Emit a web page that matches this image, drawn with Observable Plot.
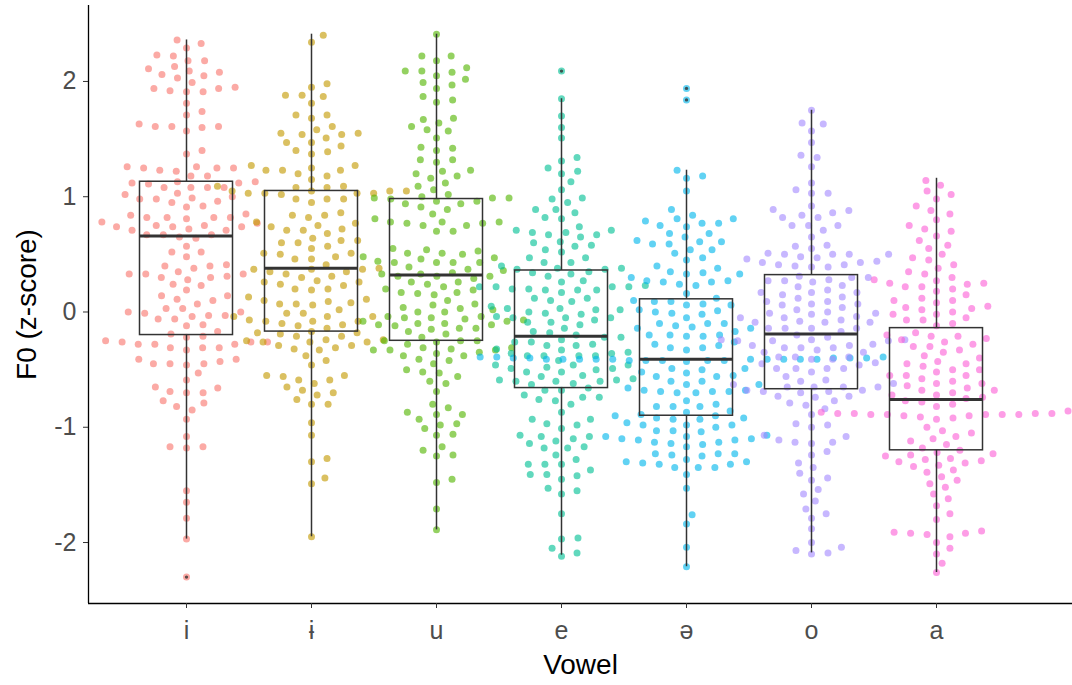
<!DOCTYPE html>
<html>
<head>
<meta charset="utf-8">
<script src="https://cdn.jsdelivr.net/npm/d3@7"></script>
<script src="https://cdn.jsdelivr.net/npm/@observablehq/plot@0.6"></script>
<style>
  html, body { margin: 0; padding: 0; background: #ffffff; }
  #chart { width: 1072px; height: 685px; }
</style>
</head>
<body>
<div id="chart"></div>
<script>
// ---------- data ----------
const vowels = ["i", "ɨ", "u", "e", "ə", "o", "a"];
const palette = ["#F8766D", "#C49A00", "#53B400", "#00C094", "#00B6EB", "#A58AFF", "#FB61D7"];
const yTicks = [-2, -1, 0, 1, 2];

const valuesI = [2.36, 2.33, 2.29, 2.22, 2.23, 2.18, 2.18, 2.13, 2.09, 2.06, 2.03, 1.99, 2.05, 2.08, 2.11, 1.95, 1.94, 1.92, 1.91, 1.91, 1.94, 1.81, 1.71, 1.74, 1.63, 1.61, 1.61, 1.57, 1.60, 1.61, 1.37, 1.40,
  1.26, 1.25, 1.25, 1.26, 1.22, 1.23, 1.25, 1.18, 1.18, 1.13, 1.13, 1.12, 1.08, 1.08, 1.08, 1.08, 1.11, 1.12, 1.03, 1.00, 1.02, 0.98, 0.98, 0.95, 0.96, 0.99, 0.91, 0.92,
  0.75, 0.78, 0.81, 0.82, 0.82, 0.85, 0.84, 0.82, 0.82, 0.67, 0.71, 0.72, 0.74, 0.77, 0.74, 0.74, 0.71, 0.67, 0.64, 0.67, 0.65, 0.75,
  0.57, 0.52, 0.52, 0.48, 0.40, 0.41, 0.40, 0.38, 0.33, 0.33, 0.30, 0.35, 0.33, 0.30, 0.31, 0.28, 0.24, 0.23, 0.19, 0.14, 0.11, 0.10, 0.14, 0.07, 0.03, 0.00, -0.06, -0.01, -0.03, -0.04, -0.06, -0.03, 0.00, 0.03,
  -0.12, -0.11, -0.17, -0.19, -0.22, -0.21, -0.26, -0.28, -0.31, -0.31, -0.28, -0.26, -0.26, -0.25, -0.28, -0.31, -0.33, -0.46, -0.45, -0.43, -0.41, -0.41, -0.45, -0.45, -0.53, -0.59, -0.70, -0.66, -0.65, -0.69, -0.70, -0.82, -0.77, -0.79, -0.85, -0.93, -1.08, -1.17, -1.17, -1.18, -1.55, -1.65, -1.79, -1.97, -2.30];

const valuesBarI = [2.40, 2.34, 1.98, 1.88, 1.88, 1.95, 1.87, 1.81, 1.71, 1.68, 1.71, 1.58, 1.61, 1.55, 1.54, 1.51, 1.54, 1.55, 1.47, 1.47, 1.44, 1.40, 1.37, 1.39,
  1.27, 1.27, 1.23, 1.25, 1.20, 1.23, 1.23, 1.18, 1.15, 1.09, 1.08, 1.08, 1.05, 1.03, 1.03, 1.05, 1.02, 1.03, 1.03, 1.05, 1.09, 1.05, 0.98, 0.98, 0.98, 0.95,
  0.86, 0.84, 0.82, 0.84, 0.78, 0.74, 0.75, 0.77, 0.72, 0.71, 0.68, 0.71, 0.64, 0.62, 0.62, 0.60, 0.60, 0.57, 0.55, 0.51, 0.48, 0.50, 0.51, 0.46, 0.46, 0.41, 0.37, 0.37, 0.35, 0.35, 0.38, 0.33, 0.37, 0.31, 0.27, 0.30, 0.26, 0.24, 0.23, 0.26, 0.20, 0.19, 0.20, 0.13, 0.11, 0.09, 0.10, 0.07, 0.06, 0.07, 0.08, 0.02, -0.01, -0.01, -0.04, -0.04, -0.04,
  -0.08, -0.08, -0.07, -0.12, -0.10, -0.11, -0.17, -0.14, -0.21, -0.18, -0.19, -0.21, -0.24, -0.32, -0.29, -0.26, -0.25, -0.26, -0.29, -0.24, -0.26, -0.18, -0.08, -0.31, -0.33, -0.38, -0.42, -0.46, -0.62, -0.56, -0.55, -0.55, -0.59, -0.59, -0.72, -0.68, -0.65, -0.70, -0.80, -0.76, -0.80, -0.96, -1.07, -1.27, -1.30, -1.44, -1.49, -1.95];

const valuesU = [2.41, 2.22, 2.22, 2.18, 2.12, 2.09, 2.05, 2.08, 2.09, 2.02, 1.99, 1.97, 1.94, 1.87, 1.82, 1.84, 1.68, 1.61, 1.58, 1.64, 1.67, 1.57, 1.51, 1.43, 1.40, 1.42, 1.32, 1.30, 1.32, 1.22, 1.20, 1.23, 1.18, 1.16, 1.12, 1.09, 1.06, 1.00, 0.99, 0.99, 0.98, 0.94, 0.91, 0.96, 0.89, 0.94, 0.96, 0.99, 1.02,
  0.85, 0.81, 0.78, 0.75, 0.75, 0.78, 0.77, 0.77, 0.78, 0.70, 0.70, 0.55, 0.51, 0.54, 0.51, 0.53, 0.47, 0.50, 0.46, 0.43, 0.43, 0.48, 0.43, 0.43, 0.44, 0.39, 0.36, 0.33, 0.31, 0.29, 0.33, 0.31, 0.31, 0.26, 0.34, 0.37, 0.22, 0.20, 0.24, 0.17, 0.19, 0.26, 0.17, 0.16, 0.15, 0.10, 0.07, 0.06, 0.04, 0.00, 0.02, 0.03, 0.00, -0.04, -0.04, -0.05, -0.06,
  -0.07, -0.08, -0.05, -0.08, -0.10, -0.11, -0.10, -0.14, -0.15, -0.17, -0.11, -0.19, -0.22, -0.25, -0.25, -0.25, -0.26, -0.28, -0.31, -0.38, -0.38, -0.32, -0.35, -0.33, -0.33, -0.36, -0.31, -0.41, -0.42, -0.45, -0.52, -0.50, -0.53, -0.56, -0.62, -0.60, -0.69, -0.80, -0.83, -0.89, -0.87, -0.89, -0.93, -1.01, -0.97, -0.98, -1.07, -1.06, -1.17, -1.20, -1.25, -1.24, -1.45, -1.48, -1.71, -1.89, -0.12, -0.14, -0.33];

const valuesE = [2.09, 1.85, 1.70, 1.60, 1.51, 1.34, 1.31, 1.25, 1.22, 1.20, 1.13, 1.06, 0.99, 0.98, 0.95, 0.89, 0.86, 0.89, 0.82, 0.81, 0.74, 0.69, 0.69, 0.67, 0.65, 0.71, 0.67, 0.71, 0.60, 0.58, 0.57, 0.61, 0.54, 0.52, 0.47, 0.47, 0.43, 0.38, 0.37, 0.35, 0.33, 0.37, 0.34, 0.38, 0.40, 0.26, 0.27, 0.31, 0.22, 0.19, 0.17, 0.20, 0.19, 0.19, 0.20, 0.22, 0.22, 0.12, 0.09, 0.10, 0.12, 0.03, 0.00, -0.02, -0.01, 0.03, 0.05, -0.04, -0.05, -0.07, -0.05, -0.09, -0.09, -0.11, -0.05, 0.02, -0.18, -0.17, -0.20, -0.14, -0.22, 0.43, 0.02, -0.63, 0.23, 0.22,
  -0.26, -0.22, -0.26, -0.24, -0.28, -0.29, -0.32, -0.29, -0.38, -0.38, -0.33, -0.36, -0.35, -0.36, -0.38, -0.38, -0.42, -0.46, -0.46, -0.46, -0.48, -0.49, -0.50, -0.52, -0.49, -0.52, -0.56, -0.55, -0.58, -0.59, -0.60, -0.59, -0.60, -0.60, -0.62, -0.68, -0.66, -0.68, -0.72, -0.76, -0.74, -0.74, -0.77, -0.80, -0.87, -0.93, -0.93, -0.97, -0.98, -1.01, -1.08, -1.07, -1.10, -1.08, -1.12, -1.14, -1.18, -1.17, -1.18, -1.24, -1.28, -1.32, -1.32, -1.32, -1.37, -1.42, -1.41, -1.41, -1.45, -1.53, -1.55, -1.58, -1.75, -1.96, -1.97, -2.05, -2.09, -2.12];

const valuesSchwa = [1.94, 1.84, 1.23, 1.16, 1.18, 1.05, 0.89, 0.79, 0.77, 0.84, 0.74, 0.81, 0.75, 0.77, 0.81, 0.68, 0.68, 0.65, 0.62, 0.61, 0.59, 0.61, 0.59, 0.54, 0.51, 0.54, 0.45, 0.47, 0.40, 0.35, 0.33, 0.34, 0.38, 0.33, 0.30, 0.27, 0.26, 0.23, 0.24, 0.26, 0.27, 0.16, 0.09, 0.07, 0.06, 0.10, 0.12, 0.06, 0.09, 0.00, -0.01, -0.02, -0.05, 0.02, 0.01, -0.12, -0.17, -0.10, -0.10, -0.13, -0.14, -0.14, -0.10,
  -0.20, -0.20, -0.21, -0.21, -0.26, -0.28, -0.31, -0.31, -0.29, -0.33, -0.20,
  -0.41, -0.40, -0.42, -0.41, -0.41, -0.41, -0.41, -0.41, -0.41, -0.42, -0.42, -0.40, -0.41, -0.40, -0.39, -0.42, -0.40, -0.42, -0.39, -0.43, -0.40, -0.41, -0.39, -0.41,
  -0.55, -0.52, -0.49, -0.49, -0.50, -0.53, -0.56, -0.56, -0.63, -0.63, -0.60, -0.60, -0.66, -0.68, -0.69, -0.70, -0.70, -0.69, -0.69, -0.68, -0.77, -0.82, -0.82, -0.80, -0.82, -0.86, -0.87, -0.89, -0.93, -0.92, -0.92, -0.93, -0.90, -0.96, -0.90, -0.98, -1.03, -1.03, -0.98, -0.98, -1.00, -1.04, -1.10, -1.08, -1.08, -1.11, -1.07, -1.10, -1.11, -1.13, -1.15, -1.13, -1.14, -1.17, -1.24, -1.23, -1.23, -1.25, -1.23, -1.28, -1.31, -1.30, -1.32, -1.30, -1.32, -1.35, -1.35, -1.35, -1.41, -1.53, -1.76, -1.84, -2.04, -2.21];

const valuesO = [1.75, 1.64, 1.63, 1.57, 1.47, 1.36, 1.34, 1.26, 1.12, 1.06, 1.03, 1.03, 0.92, 0.88, 0.86, 0.82, 0.84, 0.82, 0.89, 0.75, 0.71, 0.75, 0.75, 0.65, 0.57, 0.55, 0.58, 0.50, 0.48, 0.47, 0.50, 0.50, 0.50, 0.46, 0.43, 0.41, 0.40, 0.39, 0.39, 0.41, 0.43, 0.44, 0.51, 0.31, 0.30, 0.28, 0.30, 0.27, 0.26, 0.23, 0.27, 0.19, 0.17, 0.17, 0.22, 0.15, 0.17, 0.13, 0.09, 0.07, 0.06, 0.12, 0.07, 0.09, -0.01, 0.00, -0.01, -0.04, -0.05, 0.02, 0.04, -0.07, -0.05, -0.09, -0.09, -0.08, -0.14, -0.14, -0.17, -0.14, -0.14, -0.22, -0.24, -0.25, -0.25, -0.25, -0.24, -0.20, -0.28, -0.09, -0.24, -0.02,
  -0.29, -0.31, -0.41, -0.41, -0.39, -0.39, -0.35, -0.33, -0.35, -0.39, -0.49, -0.49, -0.52, -0.44, -0.49, -0.49, -0.62, -0.59, -0.60, -0.63, -0.56, -0.65, -0.65, -0.68, -0.69, -0.65, -0.65, -0.68, -0.74, -0.73, -0.69, -0.73, -0.77, -0.81, -0.79, -0.84, -0.89, -0.97, -0.98, -1.00, -1.07, -1.08, -1.13, -1.11, -1.13, -1.14, -1.21, -1.24, -1.31, -1.35, -1.40, -1.44, -1.46, -1.54, -1.58, -1.64, -1.71, -1.75, -1.79, -1.88, -2.00, -2.09, -2.07, -2.04, -2.10, -0.31, -0.31, -0.46, -0.70, -0.45, -0.29];

const valuesA = [1.14, 1.10, 1.05, 1.02, 0.98, 0.92, 0.88, 0.85, 0.80, 0.75, 0.72, 0.70, 0.66, 0.62, 0.58, 0.55, 0.50, 0.47, 0.45, 0.41, 0.38, 0.35, 0.33, 0.30, 0.27, 0.25, 0.24, 0.22, 0.20, 0.18, 0.15, 0.12, 0.10, 0.10, 0.08, 0.05, 0.03, 0.00, -0.02, -0.05, -0.07, -0.07, -0.10, -0.12, 0.28, 0.25, 0.22, 0.02, -0.02, 0.04,
  -0.18, -0.20, -0.21, -0.21, -0.23, -0.24, -0.26, -0.28, -0.30, -0.33, -0.35, -0.38, -0.40, -0.43, -0.45, -0.47, -0.50, -0.50, -0.52, -0.55, -0.55, -0.58, -0.60, -0.62, -0.64, -0.66, -0.68, -0.70, -0.72, -0.74, -0.75, -0.77, -0.78, -0.80, -0.82, -0.30, -0.45, -0.55, -0.62, -0.68, -0.72,
  -0.86, -0.88, -0.89, -0.89, -0.90, -0.88, -0.87, -0.89, -0.91, -0.88, -0.89, -0.90, -0.92, -0.93, -0.88, -0.89,
  -1.00, -1.03, -1.05, -1.08, -1.10, -1.12, -1.15, -1.18, -1.20, -1.23, -1.25, -1.28, -1.31, -1.34, -1.37, -1.39, -1.43, -1.46, -1.49, -1.52, -1.58, -1.62, -1.68, -1.75, -1.80, -1.90, -1.92, -1.91, -1.93, -1.92, -1.95, -2.00, -2.05, -2.10, -2.18, -2.26, -1.22, -1.27, -1.30, -1.33, -1.24, -1.29];

// box-plot statistics (one entry per vowel)
const whiskerHigh = [2.36, 2.41, 2.41, 1.85, 1.23, 1.75, 1.16];
const quartile3   = [1.13, 1.05, 0.98, 0.36, 0.11, 0.32, -0.14];
const medians     = [0.66, 0.38, 0.32, -0.21, -0.41, -0.19, -0.76];
const quartile1   = [-0.20, -0.17, -0.25, -0.66, -0.90, -0.67, -1.20];
const whiskerLow  = [-1.97, -1.95, -1.89, -2.11, -2.21, -2.09, -2.26];
const outlierVowel = ["i", "e", "ə", "ə"];
const outlierValue = [-2.30, 2.09, 1.94, 1.84];

// ---------- layout ----------
const W = 1072, H = 685;
const mL = 88, mR = 0, mT = 5, mB = 82;
const xDomain = [0.216, 8.088];
const yDomain = [-2.529, 2.659];
const pxPerX = (W - mL - mR) / (xDomain[1] - xDomain[0]);
const pxPerY = (H - mT - mB) / (yDomain[1] - yDomain[0]);

// beeswarm (swarm, ascending priority) with elliptical spacing in pixels
function swarmOffsets(vals, ax, by) {
  const pts = vals.map((v, i) => ({i, w: v * pxPerY / by}));
  pts.sort((p, q) => p.w - q.w);
  const placed = [];
  const out = new Array(vals.length);
  for (const p of pts) {
    const near = placed.filter(q => Math.abs(q.w - p.w) < 1);
    const cands = [0];
    for (const q of near) {
      const d = Math.sqrt(1 - (q.w - p.w) ** 2);
      cands.push(q.u + d, q.u - d);
    }
    const order = cands.map((c, k) => [c, k]).sort((m, n) => (Math.abs(m[0]) - Math.abs(n[0])) || (m[1] - n[1]));
    let best = 0;
    for (const [c] of order) {
      if (near.every(q => (q.u - c) ** 2 + (q.w - p.w) ** 2 >= 1 - 1e-6)) { best = c; break; }
    }
    p.u = best;
    placed.push(p);
    out[p.i] = best * ax;
  }
  return out;
}

const series = [valuesI, valuesBarI, valuesU, valuesE, valuesSchwa, valuesO, valuesA];
const points = [];
series.forEach((vals, k) => {
  const offs = swarmOffsets(vals, 16.6, 9.8);
  vals.forEach((v, j) => points.push({vowel: vowels[k], pos: k + 1 + offs[j] / pxPerX, value: v}));
});

const boxes = vowels.map((v, k) => ({
  vowel: v, pos: k + 1,
  lo: whiskerLow[k], q1: quartile1[k], med: medians[k], q3: quartile3[k], hi: whiskerHigh[k]
}));
const outliers = outlierVowel.map((v, j) => ({pos: vowels.indexOf(v) + 1, value: outlierValue[j]}));
const halfBox = 0.372;

const chart = Plot.plot({
  width: W, height: H,
  marginLeft: mL, marginRight: mR, marginTop: mT, marginBottom: mB,
  style: {fontFamily: "'Liberation Sans', Arial, sans-serif", background: "#ffffff", overflow: "visible"},
  x: {domain: xDomain, axis: null},
  y: {domain: yDomain, axis: null},
  color: {domain: vowels, range: palette},
  marks: [
    Plot.dot(points, {x: "pos", y: "value", fill: "vowel", r: 3.5, fillOpacity: 0.62, stroke: "none"}),
    Plot.ruleX(boxes, {x: "pos", y1: "q3", y2: "hi", stroke: "#333333", strokeWidth: 1.5}),
    Plot.ruleX(boxes, {x: "pos", y1: "q1", y2: "lo", stroke: "#333333", strokeWidth: 1.5}),
    Plot.rect(boxes, {x1: d => d.pos - halfBox, x2: d => d.pos + halfBox, y1: "q1", y2: "q3", fill: "none", stroke: "#333333", strokeWidth: 1.5}),
    Plot.ruleY(boxes, {x1: d => d.pos - halfBox, x2: d => d.pos + halfBox, y: "med", stroke: "#333333", strokeWidth: 3}),
    Plot.dot(outliers, {x: "pos", y: "value", r: 1.7, fill: "#333333", stroke: "none", fillOpacity: 0.8}),
    Plot.ruleX([xDomain[0]], {stroke: "#000000", strokeWidth: 1.3}),
    Plot.ruleY([yDomain[0]], {stroke: "#000000", strokeWidth: 1.3}),
    Plot.axisY({ticks: yTicks, tickFormat: d => String(d), tickSize: 5, tickPadding: 7, fontSize: 25, stroke: "#333333", fill: "#4D4D4D", label: null}),
    Plot.axisX({ticks: [1, 2, 3, 4, 5, 6, 7], tickFormat: k => vowels[k - 1], tickSize: 5, tickPadding: 13, fontSize: 25, stroke: "#333333", fill: "#4D4D4D", label: null}),
    Plot.text(["F0 (z-score)"], {frameAnchor: "left", textAnchor: "middle", lineAnchor: "middle", dx: -61, rotate: -90, fontSize: 28, fill: "#000000"}),
    Plot.text(["Vowel"], {frameAnchor: "bottom", textAnchor: "middle", lineAnchor: "middle", dy: 62, fontSize: 28, fill: "#000000"})
  ]
});
document.getElementById("chart").appendChild(chart);
</script>
</body>
</html>
